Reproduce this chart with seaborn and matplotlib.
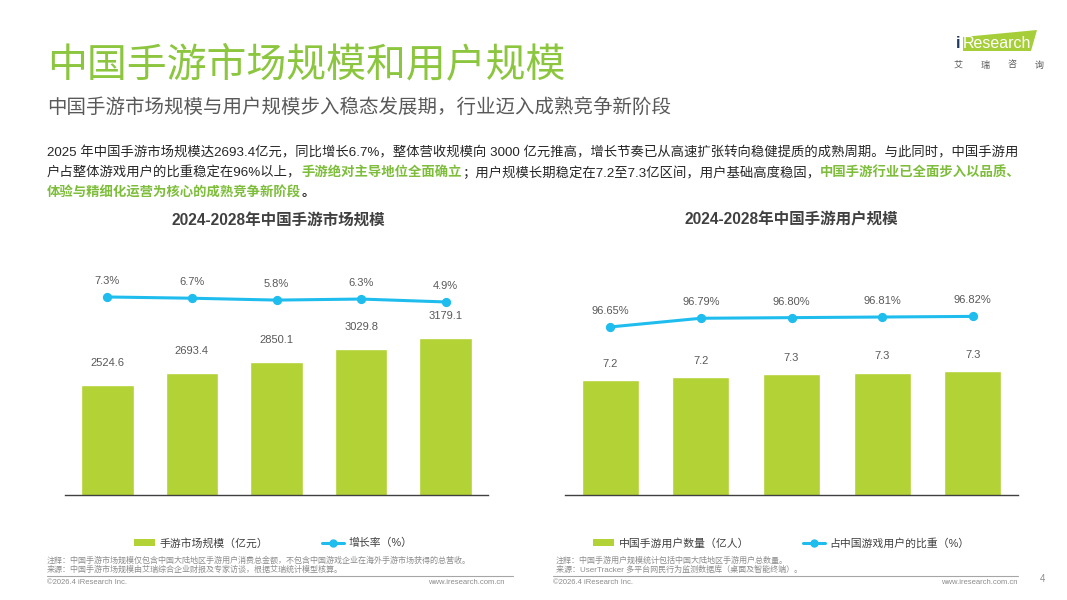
import matplotlib
matplotlib.use("Agg")
import matplotlib.pyplot as plt
import seaborn as sns
import pandas as pd
from matplotlib.patches import Patch, Polygon
from matplotlib.lines import Line2D

sns.set_style("white")
plt.rcParams['font.family'] = ['Liberation Sans', 'Noto Sans CJK SC', 'DejaVu Sans']

# 数据
years = ['2024', '2025', '2026e', '2027e', '2028e']
market_size = [2524.6, 2693.4, 2850.1, 3029.8, 3179.1]
growth_rate = [7.3, 6.7, 5.8, 6.3, 4.9]
users = [7.17, 7.21, 7.26, 7.29, 7.32]
user_share = [96.65, 96.79, 96.80, 96.81, 96.82]

BAR_GREEN = '#B2D235'
LINE_BLUE = '#1FBDEE'
TITLE_GREEN = '#8CC63F'
TEXT_GREEN = '#7DBD3A'
DARK = '#404040'
GRAY = '#595959'
LIGHT = '#8C8C8C'

W, H = 1067, 600
fig = plt.figure(figsize=(W / 100, H / 100), dpi=100)


def fx(px):
    return px / W


def fy(py):
    return 1 - py / H


# 标题
fig.text(fx(47), fy(65), '中国手游市场规模和用户规模', fontsize=28.7, color=TITLE_GREEN,
         va='center', ha='left')
fig.text(fx(47), fy(107), '中国手游市场规模与用户规模步入稳态发展期，行业迈入成熟竞争新阶段',
         fontsize=14, color=GRAY, va='center', ha='left')

# logo
logo = Polygon([(fx(963), fy(37)), (fx(1037), fy(30)), (fx(1031), fy(51)), (fx(963), fy(51))],
               closed=True, transform=fig.transFigure, facecolor='#A6CE39', edgecolor='none')
fig.add_artist(logo)
fig.text(fx(956), fy(43), 'i', fontsize=12, color='#1F3A5F', va='center', ha='left', fontweight='bold')
fig.text(fx(963), fy(43), 'Research', fontsize=11.5, color='white', va='center', ha='left')
for k, ch in enumerate('艾瑞咨询'):
    fig.text(fx(958 + k * 27), fy(65), ch, fontsize=6.5, color=GRAY, va='center', ha='center')

# 正文段落
renderer = fig.canvas.get_renderer()


def rich_line(x, y, parts, size=9.6):
    for txt, bold in parts:
        color = TEXT_GREEN if bold == 1 else '#262626'
        t = fig.text(x, y, txt, fontsize=size, color=color,
                     fontweight='bold' if bold else 'normal', va='center', ha='left')
        bb = t.get_window_extent(renderer=renderer)
        x += bb.width / fig.bbox.width


rich_line(fx(47), fy(153), [
    ('2025 年中国手游市场规模达2693.4亿元，同比增长6.7%，整体营收规模向 3000 亿元推高，'
     '增长节奏已从高速扩张转向稳健提质的成熟周期。与此同时，中国手游用', 0)])
rich_line(fx(47), fy(173), [
    ('户占整体游戏用户的比重稳定在96%以上，', 0),
    ('手游绝对主导地位全面确立', 1),
    ('；用户规模长期稳定在7.2至7.3亿区间，用户基础高度稳固，', 0),
    ('中国手游行业已全面步入以品质、', 1)])
rich_line(fx(47), fy(193), [
    ('体验与精细化运营为核心的成熟竞争新阶段', 1),
    ('。', 2)])

# 左图：市场规模
ax1 = fig.add_axes([fx(65), 1 - 495 / H, 423 / W, 240 / H])
df1 = pd.DataFrame({'year': years, 'size': market_size, 'rate': growth_rate})
sns.barplot(data=df1, x='year', y='size', color=BAR_GREEN, width=0.62, saturation=1, ax=ax1)
ax1.set_ylim(993, 993 + 240 / 0.0718)
ax1.set_xlim(-0.5, 4.5)
ax1b = ax1.twinx()
sns.pointplot(data=df1, x='year', y='rate', color=LINE_BLUE, ax=ax1b,
              markersize=5, linewidth=2.2)
ax1b.set_ylim(-88, 27.5)
ax1b.set_xlim(-0.5, 4.5)
for i, v in enumerate(market_size):
    ax1.annotate(f'{v:.1f}', (i, v), xytext=(0, 12), textcoords='offset points',
                 ha='center', va='bottom', fontsize=8, color=GRAY)
for i, v in enumerate(growth_rate):
    ax1b.annotate(f'{v:.1f}%', (i, v), xytext=(0, 8), textcoords='offset points',
                  ha='center', va='bottom', fontsize=8, color=GRAY)

# 右图：用户规模
ax2 = fig.add_axes([fx(565), 1 - 495 / H, 453 / W, 240 / H])
df2 = pd.DataFrame({'year': years, 'users': users, 'share': user_share})
sns.barplot(data=df2, x='year', y='users', color=BAR_GREEN, width=0.63, saturation=1, ax=ax2)
ax2.set_ylim(5.25, 5.25 + 240 / 60)
ax2.set_xlim(-0.5, 4.5)
ax2b = ax2.twinx()
sns.pointplot(data=df2, x='year', y='share', color=LINE_BLUE, ax=ax2b,
              markersize=5, linewidth=2.2)
ax2b.set_ylim(93.94, 97.81)
ax2b.set_xlim(-0.5, 4.5)
for i, v in enumerate(users):
    ax2.annotate(f'{v:.1f}', (i, v), xytext=(0, 8), textcoords='offset points',
                 ha='center', va='bottom', fontsize=8, color=GRAY)
for i, v in enumerate(user_share):
    ax2b.annotate(f'{v:.2f}%', (i, v), xytext=(0, 8), textcoords='offset points',
                  ha='center', va='bottom', fontsize=8, color=GRAY)

for ax in (ax1, ax2, ax1b, ax2b):
    for s in ('top', 'right', 'left'):
        ax.spines[s].set_visible(False)
    ax.spines['bottom'].set_color('#404040')
    ax.spines['bottom'].set_linewidth(1)
    ax.set_yticks([])
    ax.set_xlabel('')
    ax.set_ylabel('')
    ax.tick_params(axis='x', length=0, labelsize=8, labelcolor=GRAY, pad=8)
for ax in (ax1b, ax2b):
    ax.spines['bottom'].set_visible(False)
    ax.set_xticks([])

fig.text(fx(278), fy(220), '2024-2028年中国手游市场规模', fontsize=11.2, fontweight='bold',
         color=DARK, ha='center', va='center')
fig.text(fx(791), fy(220), '2024-2028年中国手游用户规模', fontsize=11.2, fontweight='bold',
         color=DARK, ha='center', va='center')

# 图例
def legend_handles(bar_label, line_label):
    return [Patch(facecolor=BAR_GREEN, edgecolor='none', label=bar_label),
            Line2D([0], [0], color=LINE_BLUE, lw=2.2, marker='o', markersize=5, label=line_label)]


fig.legend(handles=legend_handles('手游市场规模（亿元）', '增长率（%）'),
           loc='center', bbox_to_anchor=(fx(273), fy(543)), ncol=2, frameon=False,
           fontsize=7.8, columnspacing=5, handlelength=2, handleheight=0.7,
           handletextpad=0.4, labelcolor=DARK)
fig.legend(handles=legend_handles('中国手游用户数量（亿人）', '占中国游戏用户的比重（%）'),
           loc='center', bbox_to_anchor=(fx(781), fy(543)), ncol=2, frameon=False,
           fontsize=7.8, columnspacing=5, handlelength=2, handleheight=0.7,
           handletextpad=0.4, labelcolor=DARK)

# 注释与来源
fig.text(fx(47), fy(561), '注释：中国手游市场规模仅包含中国大陆地区手游用户消费总金额，不包含中国游戏企业在海外手游市场获得的总营收。',
         fontsize=5.8, color=LIGHT, va='center', ha='left')
fig.text(fx(47), fy(570), '来源：中国手游市场规模由艾瑞综合企业财报及专家访谈，根据艾瑞统计模型核算。',
         fontsize=5.8, color=LIGHT, va='center', ha='left')
fig.text(fx(556), fy(561), '注释：中国手游用户规模统计包括中国大陆地区手游用户总数量。',
         fontsize=5.8, color=LIGHT, va='center', ha='left')
fig.text(fx(556), fy(570), '来源：UserTracker 多平台网民行为监测数据库（桌面及智能终端）。',
         fontsize=5.8, color=LIGHT, va='center', ha='left')

fig.add_artist(Line2D([fx(47), fx(513)], [fy(575.5), fy(575.5)], transform=fig.transFigure,
                      color='#A6A6A6', lw=0.8))
fig.add_artist(Line2D([fx(553), fx(1018)], [fy(575.5), fy(575.5)], transform=fig.transFigure,
                      color='#A6A6A6', lw=0.8))

fig.text(fx(47), fy(582), '©2026.4 iResearch Inc.', fontsize=5.5, color=LIGHT, va='center', ha='left')
fig.text(fx(505), fy(582), 'www.iresearch.com.cn', fontsize=5.5, color=LIGHT, va='center', ha='right')
fig.text(fx(553), fy(582), '©2026.4 iResearch Inc.', fontsize=5.5, color=LIGHT, va='center', ha='left')
fig.text(fx(1018), fy(582), 'www.iresearch.com.cn', fontsize=5.5, color=LIGHT, va='center', ha='right')
fig.text(fx(1043), fy(579), '4', fontsize=7, color=LIGHT, va='center', ha='center')

fig.savefig('out.png', dpi=100)
